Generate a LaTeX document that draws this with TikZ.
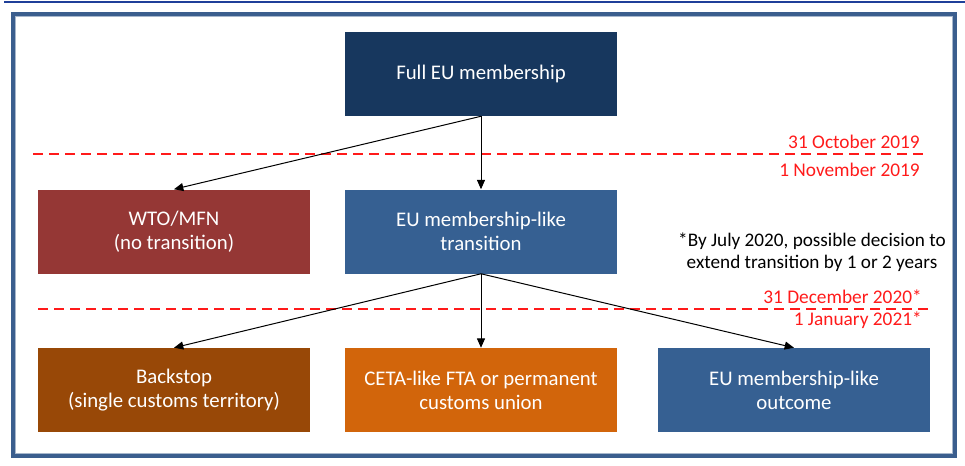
\documentclass[tikz,border=0pt]{standalone}
\usepackage{fontspec}
\setmainfont{Carlito}
\usetikzlibrary{arrows.meta}
\definecolor{topblue}{HTML}{1F3F99}
\definecolor{framecol}{HTML}{3B5E8E}
\definecolor{fulleu}{HTML}{17375E}
\definecolor{wto}{HTML}{953735}
\definecolor{midblue}{HTML}{366092}
\definecolor{backstop}{HTML}{984807}
\definecolor{ceta}{HTML}{D2650B}
\definecolor{dashred}{HTML}{FF1A1A}
\tikzset{
  box/.style={rectangle, draw=none, minimum width=204pt, minimum height=63pt, text=white, align=center, inner sep=0pt, font=\fontsize{15.6}{18}\selectfont},
  conn/.style={draw=black, line width=0.75pt, -{Triangle[length=7pt,width=6pt]}},
  deadline/.style={draw=dashred, line width=1.1pt, dash pattern=on 7.5pt off 4.5pt},
  datelabel/.style={text=dashred, anchor=east, inner sep=0pt, font=\fontsize{14.5}{16}\selectfont},
  note/.style={align=center, inner sep=0pt, font=\fontsize{14.4}{16.5}\selectfont}
}
\begin{document}
\begin{tikzpicture}[x=0.75pt, y=-0.75pt]
\useasboundingbox (0,0) rectangle (965,465);
% top rule
\draw[topblue, line width=1.8pt] (4,2) -- (965,2);
% frame
\draw[framecol, line width=2.4pt] (13,14) rectangle (955,456);
\draw[framecol!45, line width=0.6pt] (15.8,16.8) rectangle (952.2,453.2);
% boxes
\node[box, fill=fulleu] (full) at (481,74) {Full EU membership};
\node[box, fill=wto] (wto) at (174,231.5) {WTO/MFN\\(no transition)};
\node[box, fill=midblue] (trans) at (481,231.5) {EU membership-like\\transition};
\node[box, fill=backstop] (back) at (174,390) {Backstop\\(single customs territory)};
\node[box, fill=ceta] (ceta) at (481,390) {CETA-like FTA or permanent\\customs union};
\node[box, fill=midblue] (outc) at (794,390) {EU membership-like\\outcome};
% deadlines
\draw[deadline] (33,154) -- (925,154);
\draw[deadline] (38,309) -- (930,309);
\node[datelabel] (oct) at (920,142) {31 October 2019};
\node[datelabel] (nov) at (920,170) {1 November 2019};
\node[datelabel] (dec) at (922,297) {31 December 2020*};
\node[datelabel] (jan) at (922,320) {1 January 2021*};
\node[note] (nt) at (812,252) {*By July 2020, possible decision to\\extend transition by 1 or 2 years};
% connectors
\draw[conn] (full.south) -- (wto.north);
\draw[conn] (full.south) -- (trans.north);
\draw[conn] (trans.south) -- (back.north);
\draw[conn] (trans.south) -- (ceta.north);
\draw[conn] (trans.south) -- (outc.north);
\end{tikzpicture}
\end{document}
